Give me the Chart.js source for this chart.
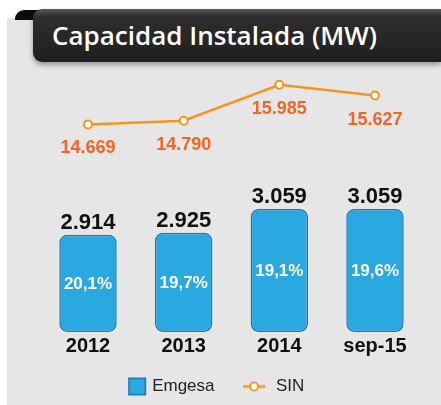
<!DOCTYPE html>
<html>
<head>
<meta charset="utf-8">
<script src="https://cdn.jsdelivr.net/npm/chart.js@4/dist/chart.umd.min.js"></script>
<style>
html,body{margin:0;padding:0;background:#fff;width:441px;height:405px;overflow:hidden;}
#bg{position:absolute;left:7px;top:18px;width:434px;height:387px;background:#e6e6e6;}
#curl{position:absolute;left:15px;top:10px;width:24px;height:10px;background:#0d0d0d;border-radius:9px 0 0 0;}
#banner{position:absolute;left:33px;top:9px;width:408px;height:53px;border-radius:9px 0 0 9px;
  background:linear-gradient(#5a5a5a 0%,#2e2e2e 14%,#1f1f1f 100%);box-shadow:0 3px 5px rgba(0,0,0,0.35);}
#title{position:absolute;left:19px;top:13px;margin:0;font-family:'Open Sans',sans-serif;font-weight:600;font-size:26px;line-height:26px;color:#fff;white-space:nowrap;}
#wrap{position:absolute;left:0;top:0;width:441px;height:405px;}
</style>
</head>
<body>
<div id="bg"></div>
<div id="curl"></div>
<div id="banner"><h1 id="title">Capacidad Instalada (MW)</h1></div>
<div id="wrap"><canvas id="c" width="441" height="405"></canvas></div>
<script>
const categories = ['2012', '2013', '2014', 'sep-15'];
const emgesaMW = [2914, 2925, 3059, 3059];
const emgesaShare = ['20,1%', '19,7%', '19,1%', '19,6%'];
const sinMW = [14669, 14790, 15985, 15627];
const seriesNames = ['Emgesa', 'SIN'];
const barAxisRange = [2367, 3840];
const lineAxisRange = [7767, 16477];

const BLUE = '#29a9e0', BLUE_DARK = '#1b75bb', ORANGE = '#f7941d', ORANGE_TXT = '#f26522';

function fmt(n) { return String(n).replace(/\B(?=(\d{3})+(?!\d))/g, '.'); }

function makeIcon(draw) {
  const c = document.createElement('canvas');
  c.width = 52; c.height = 22;
  draw(c.getContext('2d'));
  return c;
}
const emgesaIcon = makeIcon(ctx => {
  ctx.fillStyle = BLUE; ctx.strokeStyle = BLUE_DARK; ctx.lineWidth = 1.5;
  ctx.fillRect(33, 2, 18, 18); ctx.strokeRect(33.75, 2.75, 16.5, 16.5);
});
const sinIcon = makeIcon(ctx => {
  ctx.strokeStyle = ORANGE; ctx.lineWidth = 2.5;
  ctx.beginPath(); ctx.moveTo(24, 11); ctx.lineTo(46, 11); ctx.stroke();
  ctx.beginPath(); ctx.arc(35, 11, 4, 0, Math.PI * 2);
  ctx.fillStyle = '#fff'; ctx.fill(); ctx.lineWidth = 2; ctx.stroke();
});

const valueLabels = {
  id: 'valueLabels',
  afterDatasetsDraw(chart) {
    const ctx = chart.ctx;
    ctx.save();
    ctx.textAlign = 'center';
    chart.getDatasetMeta(0).data.forEach((bar, i) => {
      ctx.textBaseline = 'alphabetic';
      ctx.font = 'bold 22px Arial, "Liberation Sans"';
      ctx.fillStyle = '#111';
      ctx.fillText(fmt(emgesaMW[i]), bar.x, bar.y - 6);
      ctx.textBaseline = 'middle';
      ctx.font = 'bold 17px Arial, "Liberation Sans"';
      ctx.fillStyle = '#fff';
      ctx.fillText(emgesaShare[i], bar.x, (bar.y + bar.base) / 2 + 1);
    });
    chart.getDatasetMeta(1).data.forEach((pt, i) => {
      ctx.textBaseline = 'alphabetic';
      ctx.font = 'bold 18px Arial, "Liberation Sans"';
      ctx.fillStyle = ORANGE_TXT;
      ctx.fillText(fmt(sinMW[i]), pt.x, pt.y + 29);
    });
    ctx.restore();
  }
};

new Chart(document.getElementById('c'), {
  data: {
    labels: categories,
    datasets: [
      {
        type: 'bar', label: seriesNames[0], data: emgesaMW, yAxisID: 'yBar',
        base: barAxisRange[0],
        backgroundColor: BLUE, borderColor: BLUE_DARK, borderWidth: 1.5,
        borderRadius: 8, borderSkipped: false,
        barPercentage: 0.6, categoryPercentage: 1, clip: false, order: 2
      },
      {
        type: 'line', label: seriesNames[1], data: sinMW, yAxisID: 'yLine',
        borderColor: ORANGE, borderWidth: 2.5, tension: 0,
        pointRadius: 4, pointBackgroundColor: '#fff', pointBorderColor: ORANGE, pointBorderWidth: 2,
        clip: false, order: 1
      }
    ]
  },
  options: {
    responsive: false, animation: false,
    layout: { padding: { left: 0, right: 38, top: 70, bottom: 0 } },
    scales: {
      x: {
        offset: false,
        grid: { display: false, drawTicks: false }, border: { display: false },
        ticks: { autoSkip: false, maxRotation: 0, padding: 2, color: '#111',
                 font: { family: 'Arial, "Liberation Sans"', size: 20, weight: 'bold' } },
        afterFit(s) { s.height = 38; }
      },
      yBar: {
        position: 'left', min: barAxisRange[0], max: barAxisRange[1],
        grid: { display: false, drawTicks: false }, border: { display: false },
        ticks: { display: false },
        afterFit(s) { s.width = 88; }
      },
      yLine: {
        position: 'right', min: lineAxisRange[0], max: lineAxisRange[1],
        grid: { display: false, drawTicks: false }, border: { display: false },
        ticks: { display: false },
        afterFit(s) { s.width = 28; }
      }
    },
    plugins: {
      title: { display: false },
      tooltip: { enabled: false },
      legend: {
        position: 'bottom',
        labels: {
          usePointStyle: true, pointStyleWidth: 45, padding: 8, color: '#222',
          font: { family: 'Arial, "Liberation Sans"', size: 17 },
          sort: (a, b) => a.datasetIndex - b.datasetIndex,
          generateLabels(chart) {
            const items = Chart.defaults.plugins.legend.labels.generateLabels(chart);
            return items.map(it => Object.assign(it, { pointStyle: it.datasetIndex === 0 ? emgesaIcon : sinIcon }));
          }
        }
      }
    }
  },
  plugins: [valueLabels]
});
</script>
</body>
</html>
